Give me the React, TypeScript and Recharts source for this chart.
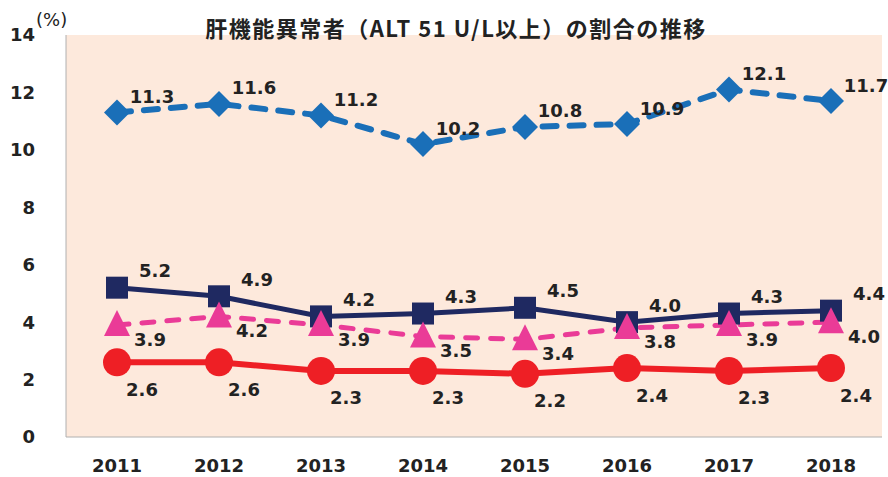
import { LineChart, Line, XAxis, YAxis, CartesianGrid } from "recharts";

const years = ["2011", "2012", "2013", "2014", "2015", "2016", "2017", "2018"];
const diamondValues = [11.3, 11.6, 11.2, 10.2, 10.8, 10.9, 12.1, 11.7];
const squareValues = [5.2, 4.9, 4.2, 4.3, 4.5, 4.0, 4.3, 4.4];
const triangleValues = [3.9, 4.2, 3.9, 3.5, 3.4, 3.8, 3.9, 4.0];
const circleValues = [2.6, 2.6, 2.3, 2.3, 2.2, 2.4, 2.3, 2.4];
const yTicks = [0, 2, 4, 6, 8, 10, 12, 14];

const data = years.map((year, i) => ({
  year,
  diamond: diamondValues[i],
  square: squareValues[i],
  triangle: triangleValues[i],
  circle: circleValues[i],
}));

const BLUE = "#1a6fb8";
const NAVY = "#1f2961";
const PINK = "#ea3b97";
const RED = "#ee1f25";
const TEXT = "#222";
const FONT = "'DejaVu Sans', Verdana, sans-serif";

const Diamond = (p: any) => (
  <path
    key={p.index}
    d={`M${p.cx} ${p.cy - 13} L${p.cx + 13} ${p.cy} L${p.cx} ${p.cy + 13} L${p.cx - 13} ${p.cy} Z`}
    fill={BLUE}
  />
);
const Square = (p: any) => <rect key={p.index} x={p.cx - 11} y={p.cy - 11} width={22} height={22} fill={NAVY} />;
const Triangle = (p: any) => (
  <path
    key={p.index}
    d={`M${p.cx} ${p.cy - 15} L${p.cx + 13} ${p.cy + 11} L${p.cx - 13} ${p.cy + 11} Z`}
    fill={PINK}
  />
);
const Circle = (p: any) => <circle key={p.index} cx={p.cx} cy={p.cy} r={14} fill={RED} />;

// each series puts its numbers at a fixed offset from the marker
function valueLabel(dx: number, dy: number) {
  return (p: any) => (
    <text
      key={p.index}
      x={p.x + dx}
      y={p.y + dy}
      textAnchor="middle"
      dominantBaseline="central"
      fontFamily={FONT}
      fontWeight="bold"
      fontSize={18}
      fill={TEXT}
    >
      {Number(p.value).toFixed(1)}
    </text>
  );
}

const tickStyle = { fontFamily: FONT, fontWeight: "bold", fontSize: 18, fill: TEXT };

export default function App() {
  return (
    <div style={{ position: "absolute", left: 0, top: 0, width: 888, height: 477, background: "#fff" }}>
      <LineChart width={888} height={477} data={data} margin={{ top: 35, right: 6, left: 0, bottom: 0 }}>
        <CartesianGrid horizontal={false} vertical={false} fill="#fde9dc" />
        <XAxis
          dataKey="year"
          padding={{ left: 51, right: 51 }}
          height={40}
          tickSize={0}
          tickMargin={22}
          axisLine={{ stroke: "#b0b0b0" }}
          tickLine={false}
          tick={tickStyle}
        />
        <YAxis
          domain={[0, 14]}
          ticks={yTicks}
          width={66}
          tickSize={0}
          tickMargin={31}
          axisLine={{ stroke: "#b0b0b0" }}
          tickLine={false}
          tick={tickStyle}
        />
        <Line
          dataKey="diamond"
          stroke={BLUE}
          strokeWidth={6}
          strokeDasharray="14 13"
          strokeLinecap="round"
          dot={Diamond}
          activeDot={false}
          label={valueLabel(35, -16)}
          isAnimationActive={false}
        />
        <Line
          dataKey="square"
          stroke={NAVY}
          strokeWidth={5}
          dot={Square}
          activeDot={false}
          label={valueLabel(38, -17)}
          isAnimationActive={false}
        />
        <Line
          dataKey="triangle"
          stroke={PINK}
          strokeWidth={5}
          strokeDasharray="12 13"
          strokeLinecap="round"
          dot={Triangle}
          activeDot={false}
          label={valueLabel(33, 14)}
          isAnimationActive={false}
        />
        <Line
          dataKey="circle"
          stroke={RED}
          strokeWidth={6}
          dot={Circle}
          activeDot={false}
          label={valueLabel(25, 27)}
          isAnimationActive={false}
        />
      </LineChart>
      <div
        style={{
          position: "absolute",
          left: 24,
          width: 864,
          top: 14,
          lineHeight: "26px",
          textAlign: "center",
          fontFamily: "'Noto Sans CJK JP', sans-serif",
          fontWeight: "bold",
          fontSize: 22,
          letterSpacing: "1.5px",
          color: TEXT,
          zIndex: 2,
        }}
      >
        肝機能異常者（ALT 51 U/L以上）の割合の推移
      </div>
      <div
        style={{
          position: "absolute",
          left: 36,
          top: 9,
          lineHeight: "22px",
          fontFamily: FONT,
          fontSize: 18,
          color: TEXT,
          zIndex: 2,
        }}
      >
        (%)
      </div>
    </div>
  );
}
